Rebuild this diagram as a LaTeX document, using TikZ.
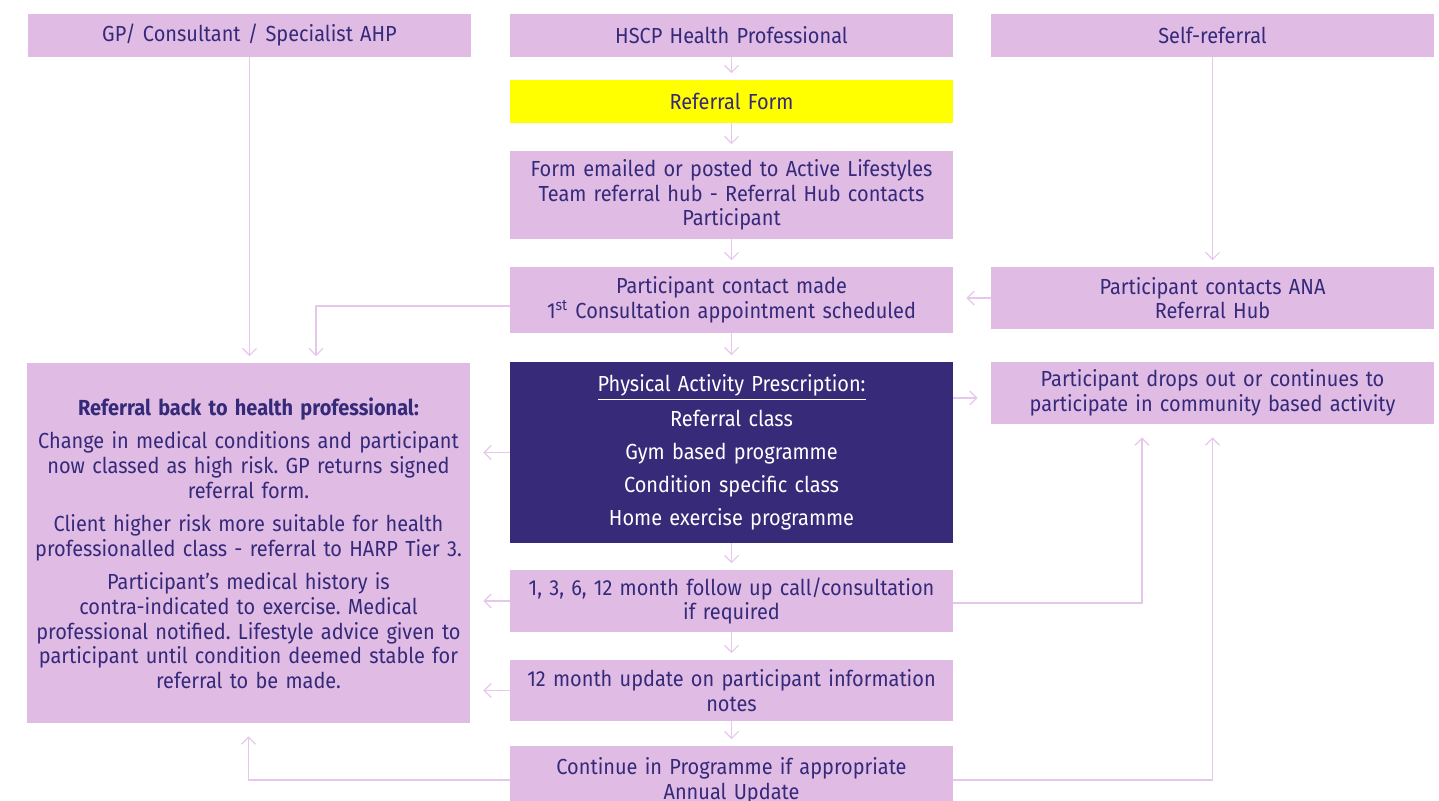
\documentclass[tikz,border=0pt]{standalone}
\usepackage{fontspec}
\setmainfont{Fira Sans}[FakeStretch=0.915]
\frenchspacing
\usetikzlibrary{arrows.meta}
\definecolor{boxfill}{HTML}{E0BCE4}
\definecolor{linecol}{HTML}{E6C6EA}
\definecolor{navy}{HTML}{372A78}
\definecolor{inkcol}{HTML}{35297A}
\definecolor{formyellow}{HTML}{FFFF00}
\tikzset{
  box/.style={fill=boxfill, draw=none, minimum width=221.5pt, text width=215pt,
    align=center, inner sep=0pt, text=inkcol,
    font=\fontsize{10.9}{12.3}\selectfont},
  darkbox/.style={box, fill=navy, text=white},
  yellowbox/.style={box, fill=formyellow},
  conn/.style={draw=linecol, line width=0.75pt,
    -{Straight Barb[length=3.5pt,width=7pt,line width=0.6pt]}},
  gapend/.style={shorten >=3.2pt},
  longgap/.style={shorten >=6.5pt}
}
\begin{document}
\begin{tikzpicture}[x=0.5pt,y=-0.5pt]
\useasboundingbox (0,0) rectangle (1439,801);
\clip (0,0) rectangle (1439,801);

% top row of referral sources
\node[box, minimum height=21.5pt] (gp) at (249.5,35.5) {GP/ Consultant / Specialist AHP};
\node[box, minimum height=21.5pt] (hscp) at (731.5,35.5) {HSCP Health Professional};
\node[box, minimum height=21.5pt] (self) at (1212.5,35.5) {Self-referral};

% central column
\node[yellowbox, minimum height=21.5pt] (form) at (731.5,101.5) {Referral Form};
\node[box, minimum height=44pt] (email) at (731.5,195)
  {Form emailed or posted to Active Lifestyles\\Team referral hub - Referral Hub contacts\\Participant};
\node[box, minimum height=33pt] (contact) at (731.5,300)
  {Participant contact made\\1\textsuperscript{st} Consultation appointment scheduled};
\node[darkbox, minimum height=90.5pt] (pap) at (731.5,452.5)
  {\underline{Physical Activity Prescription:}\\[4.2pt]Referral class\\[4.2pt]Gym based programme\\[4.2pt]Condition specific class\\[4.2pt]Home exercise programme};
\node[box, minimum height=31pt] (follow) at (731.5,601)
  {1, 3, 6, 12 month follow up call/consultation\\if required};
\node[box, minimum height=30.5pt] (update) at (731.5,690.5)
  {12 month update on participant information\\notes};
\node[box, minimum height=35pt] (cont) at (731.5,781)
  {Continue in Programme if appropriate\\Annual Update};

% right column
\node[box, minimum height=31pt] (ana) at (1212.5,298)
  {Participant contacts ANA\\Referral Hub};
\node[box, minimum height=31pt] (drops) at (1212.5,393)
  {Participant drops out or continues to\\participate in community based activity};

% left column
\node[box, minimum height=180pt] (back) at (248.5,543)
  {\textbf{Referral back to health professional:}\\[4.5pt]
   Change in medical conditions and participant\\now classed as high risk. GP returns signed\\referral form.\\[4.5pt]
   Client higher risk more suitable for health\\professionalled class - referral to HARP Tier 3.\\[4.5pt]
   Participant’s medical history is\\contra-indicated to exercise. Medical\\professional notified. Lifestyle advice given to\\participant until condition deemed stable for\\referral to be made.};

% vertical flow down the centre
\draw[conn, gapend] (hscp) -- (form);
\draw[conn, gapend] (form) -- (email);
\draw[conn, gapend] (email) -- (contact);
\draw[conn, gapend] (contact) -- (pap);
\draw[conn, gapend] (pap) -- (follow);
\draw[conn, gapend] (follow) -- (update);
\draw[conn, gapend] (update) -- (cont);

% sources feeding in
\draw[conn, gapend] (gp.south) -- (gp.south |- back.north);
\draw[conn, gapend] ([yshift=-3pt]contact.west) -| ([xshift=33.75pt]back.north);
\draw[conn, gapend] (self.south) -- (ana.north);
\draw[conn, longgap] (ana.west) -- (ana.west -| contact.east);

% prescription outcomes
\draw[conn, longgap] ([yshift=-2.5pt]drops.west -| pap.east) -- ([yshift=-2.5pt]drops.west);
\draw[conn, longgap] (pap.west) -- (pap.west -| back.east);
\draw[conn, longgap] (follow.west) -- (follow.west -| back.east);
\draw[conn, longgap] (update.west) -- (update.west -| back.east);
\draw[conn, longgap] ([yshift=-1pt]follow.east) -| ([xshift=-35.25pt]drops.south);
\draw[conn, longgap] ([yshift=0.5pt]cont.east) -| (drops.south);
\draw[conn, longgap] ([yshift=0.5pt]cont.west) -| (back.south);
\end{tikzpicture}
\end{document}
